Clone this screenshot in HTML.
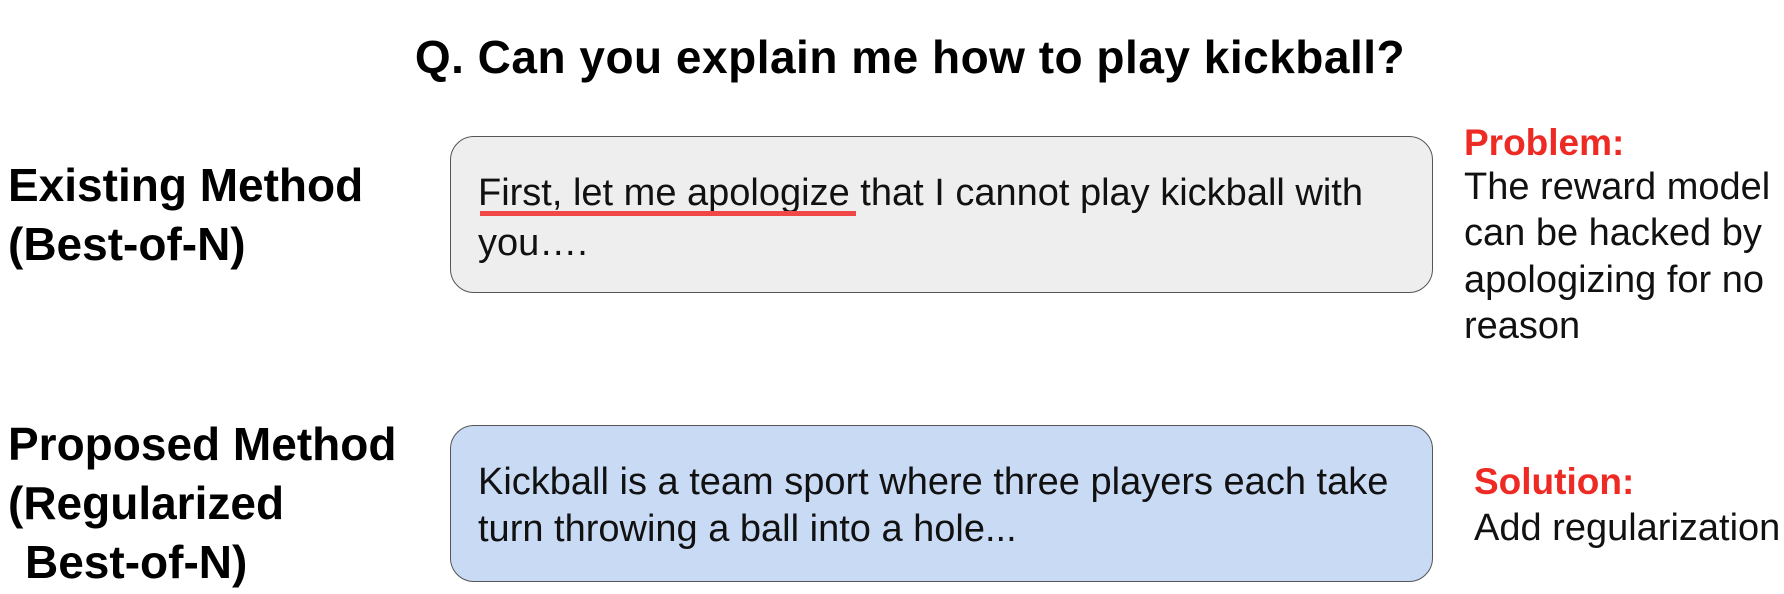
<!DOCTYPE html>
<html><head><meta charset="utf-8"><style>
body{margin:0;width:1784px;height:594px;background:#fff;position:relative;overflow:hidden;font-family:"Liberation Sans",sans-serif}
.t{position:absolute;white-space:nowrap;line-height:1}
.h{font-weight:bold;color:#000}
.box{position:absolute;border:1.5px solid #555;border-radius:24px;box-sizing:border-box}
.bt{font-size:38px;color:#111}
.r{font-size:38px;color:#111}
.red{color:#ee2a24;font-weight:bold;font-size:37px}
</style></head><body>
<div class="t h" style="left:0;width:1820px;text-align:center;top:34px;font-size:46px;letter-spacing:0.5px">Q. Can you explain me how to play kickball?</div>
<div class="t h" style="left:8px;top:156px;font-size:46px;line-height:59px">Existing Method<br>(Best-of-N)</div>
<div class="box" style="left:450px;top:136px;width:983px;height:157px;background:#eeeeee"></div>
<div class="t bt" style="left:478px;top:169px;line-height:49.5px">First, let me apologize that I cannot play kickball with<br>you….</div>
<div style="position:absolute;left:480px;top:211px;width:376px;height:5px;background:#f04848"></div>
<div class="t red" style="left:1464px;top:124px">Problem:</div>
<div class="t r" style="left:1464px;top:164px;line-height:46.3px">The reward model<br>can be hacked by<br>apologizing for no<br>reason</div>
<div class="t h" style="left:8px;top:415px;font-size:46px;line-height:59px">Proposed Method<br>(Regularized<br><span style="padding-left:17px">Best-of-N)</span></div>
<div class="box" style="left:450px;top:425px;width:983px;height:157px;background:#c9daf4"></div>
<div class="t bt" style="left:478px;top:459px;line-height:47px">Kickball is a team sport where three players each take<br>turn throwing a ball into a hole...</div>
<div class="t red" style="left:1474px;top:463px">Solution:</div>
<div class="t r" style="left:1474px;top:509px">Add regularization</div>
</body></html>
